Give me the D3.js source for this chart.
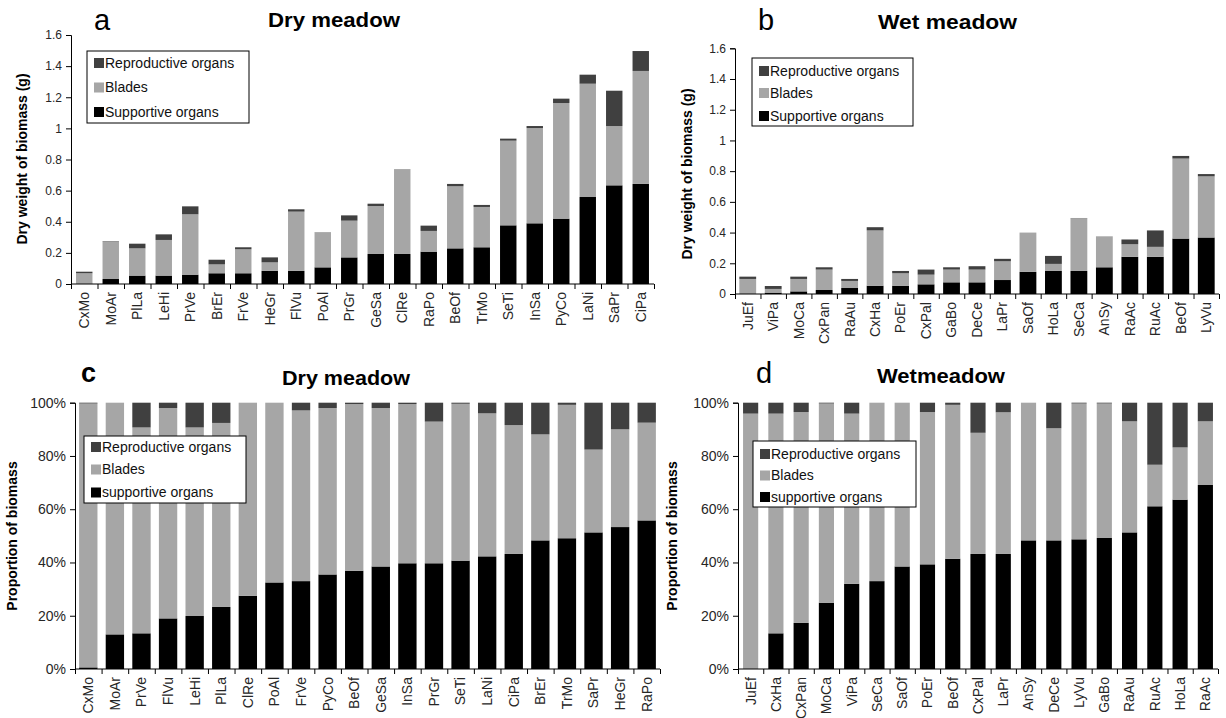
<!DOCTYPE html>
<html>
<head>
<meta charset="utf-8">
<script src="https://cdn.jsdelivr.net/npm/d3@7"></script>
<style>
  html, body { margin: 0; padding: 0; background: #fff; }
  svg { display: block; font-family: "Liberation Sans", Arial, sans-serif; }
</style>
</head>
<body>
<svg id="chart" width="1226" height="718"></svg>
<script>
// ---- Dry meadow, dry weight (g) per organ ----
const dryCats = ["CxMo","MoAr","PlLa","LeHi","PrVe","BrEr","FrVe","HeGr","FlVu","PoAl","PrGr","GeSa","ClRe","RaPo","BeOf","TrMo","SeTi","InSa","PyCo","LaNi","SaPr","CiPa"];
const drySupport = [0.001,0.032,0.054,0.054,0.060,0.069,0.069,0.084,0.084,0.107,0.171,0.193,0.193,0.208,0.229,0.236,0.377,0.390,0.420,0.559,0.634,0.643];
const dryBlades  = [0.068,0.240,0.175,0.229,0.388,0.057,0.154,0.055,0.381,0.225,0.236,0.308,0.542,0.133,0.399,0.259,0.544,0.612,0.743,0.728,0.381,0.726];
const dryRepro   = [0.010,0.003,0.030,0.036,0.051,0.030,0.013,0.032,0.015,0.001,0.034,0.015,0.002,0.034,0.015,0.013,0.013,0.013,0.028,0.058,0.227,0.128];

// ---- Wet meadow, dry weight (g) per organ ----
const wetCats = ["JuEf","ViPa","MoCa","CxPan","RaAu","CxHa","PoEr","CxPal","GaBo","DeCe","LaPr","SaOf","HoLa","SeCa","AnSy","RaAc","RuAc","BeOf","LyVu"];
const wetSupport = [0.000,0.009,0.017,0.026,0.039,0.054,0.054,0.063,0.076,0.076,0.091,0.144,0.150,0.150,0.174,0.242,0.242,0.361,0.368];
const wetBlades  = [0.098,0.024,0.081,0.133,0.046,0.360,0.081,0.063,0.083,0.083,0.122,0.254,0.046,0.344,0.200,0.082,0.065,0.521,0.398];
const wetRepro   = [0.015,0.019,0.015,0.015,0.013,0.021,0.015,0.033,0.015,0.022,0.016,0.001,0.052,0.001,0.001,0.031,0.107,0.017,0.015];

// ---- Dry meadow, proportion of biomass (%) ----
const dryPctCats = ["CxMo","MoAr","PrVe","FlVu","LeHi","PlLa","ClRe","PoAl","FrVe","PyCo","BeOf","GeSa","InSa","PrGr","SeTi","LaNi","CiPa","BrEr","TrMo","SaPr","HeGr","RaPo"];
const dryPctSupport = [0.6,13.0,13.4,19.0,19.9,23.3,27.5,32.5,33.0,35.5,36.9,38.5,39.7,39.7,40.7,42.3,43.2,48.3,49.1,51.3,53.3,55.8];
const dryPctBlades  = [99.1,87.0,77.3,79.0,70.8,69.1,72.5,67.5,64.1,62.5,62.6,59.5,59.8,53.2,58.9,53.7,48.4,39.8,50.1,31.1,36.7,36.7];
const dryPctRepro   = [0.3,0.0,9.3,2.0,9.3,7.6,0.0,0.0,2.9,2.0,0.5,2.0,0.5,7.1,0.4,4.0,8.4,11.9,0.8,17.6,10.0,7.5];

// ---- Wet meadow, proportion of biomass (%) ----
const wetPctCats = ["JuEf","CxHa","CxPan","MoCa","ViPa","SeCa","SaOf","PoEr","BeOf","CxPal","LaPr","AnSy","DeCe","LyVu","GaBo","RaAu","RuAc","HoLa","RaAc"];
const wetPctSupport = [0.0,13.4,17.3,24.9,32.0,33.0,38.5,39.3,41.4,43.2,43.2,48.3,48.3,48.7,49.2,51.3,61.1,63.6,69.1];
const wetPctBlades  = [95.9,82.5,79.2,74.8,63.9,67.0,61.5,57.2,57.8,45.5,53.2,51.7,42.1,51.0,50.5,41.7,15.6,19.6,23.9];
const wetPctRepro   = [4.1,4.1,3.5,0.3,4.1,0.0,0.0,3.5,0.8,11.3,3.6,0.0,9.6,0.3,0.3,7.0,23.3,16.8,7.0];

// ---- Axis ticks ----
const weightTicks = [0, 0.2, 0.4, 0.6, 0.8, 1, 1.2, 1.4, 1.6];
const percentTicks = [0, 20, 40, 60, 80, 100];

const organKeys = ["support", "blades", "repro"];
const organColors = { support: "#000000", blades: "#a6a6a6", repro: "#404040" };

const svg = d3.select("#chart");

function drawPanel(p) {
  const g = svg.append("g");
  const n = p.cats.length;
  const rows = p.cats.map((c, i) => ({ cat: c, support: p.support[i], blades: p.blades[i], repro: p.repro[i] }));
  const stacked = d3.stack().keys(organKeys)(rows);

  const x = d3.scaleBand().domain(p.cats).range([p.x0, p.x1])
    .paddingInner(p.pad).paddingOuter(p.pad / 2);
  const y = d3.scaleLinear().domain([0, p.max]).range([p.yBase, p.yTop]);

  // stacked bars
  g.selectAll("g.layer").data(stacked).join("g")
    .attr("fill", d => organColors[d.key])
    .selectAll("rect").data(d => d).join("rect")
    .attr("x", d => x(d.data.cat))
    .attr("width", x.bandwidth())
    .attr("y", d => y(d[1]))
    .attr("height", d => Math.max(0, y(d[0]) - y(d[1])));

  // y axis
  const yAxis = d3.axisLeft(y).tickValues(p.ticks).tickSize(5).tickPadding(4)
    .tickFormat(p.fmt);
  const ya = g.append("g").attr("transform", `translate(${p.x0},0)`).call(yAxis);
  ya.select(".domain").attr("stroke", "#000");
  ya.selectAll(".tick line").attr("stroke", "#000");
  ya.selectAll("text").attr("fill", "#262626").style("font-size", p.yFont + "px");

  // x axis: category-boundary ticks
  const xb = d3.scaleLinear().domain([0, n]).range([p.x0, p.x1]);
  const xbAxis = d3.axisBottom(xb).tickValues(d3.range(n + 1)).tickSize(5).tickFormat("");
  const xa = g.append("g").attr("transform", `translate(0,${p.yBase})`).call(xbAxis);
  xa.select(".domain").attr("stroke", "#000").attr("d", `M${p.x0},0H${p.x1}`);
  xa.selectAll(".tick line").attr("stroke", "#000");

  // x axis: rotated category labels
  const xl = g.append("g").attr("transform", `translate(0,${p.yBase})`)
    .call(d3.axisBottom(x).tickSize(0).tickPadding(0));
  xl.select(".domain").remove();
  xl.selectAll("text")
    .attr("transform", "rotate(-90)")
    .attr("x", -8).attr("y", 0).attr("dy", "0.35em")
    .style("text-anchor", "end")
    .style("font-size", p.xFont + "px")
    .attr("fill", "#262626");

  // y-axis title
  g.append("text")
    .attr("transform", `translate(${p.yTitleX},${p.yTitleY}) rotate(-90)`)
    .attr("text-anchor", "middle")
    .style("font-size", "14px").style("font-weight", "bold")
    .text(p.yTitle);

  // panel letter and title
  g.append("text").attr("x", p.letterX).attr("y", p.letterY)
    .style("font-size", p.letterSize + "px")
    .style("font-weight", p.letterBold ? "bold" : "normal")
    .text(p.letter);
  g.append("text").attr("x", p.titleX).attr("y", p.titleY)
    .attr("textLength", p.titleLen).attr("lengthAdjust", "spacingAndGlyphs")
    .style("font-size", "20px").style("font-weight", "bold")
    .text(p.title);

  // legend
  const L = p.legend;
  const lg = g.append("g");
  lg.append("rect").attr("x", L.x).attr("y", L.y).attr("width", L.w).attr("height", L.h)
    .attr("fill", "#fff").attr("stroke", "#000").attr("stroke-width", 1);
  const items = [
    { key: "repro", label: "Reproductive organs" },
    { key: "blades", label: "Blades" },
    { key: "support", label: L.supportLabel }
  ];
  items.forEach((it, i) => {
    const cy = L.rows[i];
    lg.append("rect").attr("x", L.x + 7).attr("y", cy - 5).attr("width", 10).attr("height", 10)
      .attr("fill", organColors[it.key]);
    lg.append("text").attr("x", L.x + 18).attr("y", cy).attr("dy", "0.35em")
      .style("font-size", "14px").attr("fill", "#111").text(it.label);
  });
}

const weightFmt = d => String(+d.toFixed(1));
const pctFmt = d => d + "%";

drawPanel({
  cats: dryCats, support: drySupport, blades: dryBlades, repro: dryRepro,
  x0: 71, x1: 654, yTop: 35, yBase: 284, max: 1.6, pad: 0.38,
  ticks: weightTicks, fmt: weightFmt, yFont: 12, xFont: 14,
  yTitle: "Dry weight of biomass (g)", yTitleX: 27, yTitleY: 159,
  letter: "a", letterX: 94, letterY: 30, letterSize: 29, letterBold: false,
  title: "Dry meadow", titleX: 268, titleY: 27, titleLen: 132,
  legend: { x: 87, y: 51, w: 162, h: 72, rows: [63, 87.5, 112], supportLabel: "Supportive organs" }
});

drawPanel({
  cats: wetCats, support: wetSupport, blades: wetBlades, repro: wetRepro,
  x0: 735, x1: 1219, yTop: 48.3, yBase: 294, max: 1.6, pad: 0.34,
  ticks: weightTicks, fmt: weightFmt, yFont: 12, xFont: 14,
  yTitle: "Dry weight of biomass (g)", yTitleX: 692, yTitleY: 174,
  letter: "b", letterX: 758, letterY: 30, letterSize: 29, letterBold: false,
  title: "Wet meadow", titleX: 878, titleY: 29, titleLen: 139,
  legend: { x: 752, y: 58, w: 161, h: 68, rows: [71, 93, 116], supportLabel: "Supportive organs" }
});

drawPanel({
  cats: dryPctCats, support: dryPctSupport, blades: dryPctBlades, repro: dryPctRepro,
  x0: 75, x1: 660, yTop: 402.7, yBase: 669, max: 100, pad: 0.31,
  ticks: percentTicks, fmt: pctFmt, yFont: 14, xFont: 14,
  yTitle: "Proportion of biomass", yTitleX: 17, yTitleY: 536,
  letter: "c", letterX: 81, letterY: 382, letterSize: 27, letterBold: true,
  title: "Dry meadow", titleX: 282, titleY: 385, titleLen: 128,
  legend: { x: 84, y: 436, w: 162, h: 67, rows: [447, 469.5, 492.5], supportLabel: "supportive organs" }
});

drawPanel({
  cats: wetPctCats, support: wetPctSupport, blades: wetPctBlades, repro: wetPctRepro,
  x0: 738, x1: 1218, yTop: 402.7, yBase: 669, max: 100, pad: 0.4,
  ticks: percentTicks, fmt: pctFmt, yFont: 14, xFont: 14,
  yTitle: "Proportion of biomass", yTitleX: 677, yTitleY: 536,
  letter: "d", letterX: 756, letterY: 383, letterSize: 29, letterBold: false,
  title: "Wetmeadow", titleX: 877, titleY: 383, titleLen: 128,
  legend: { x: 753, y: 441, w: 163, h: 66, rows: [454, 475.5, 497], supportLabel: "supportive organs" }
});
</script>
</body>
</html>
